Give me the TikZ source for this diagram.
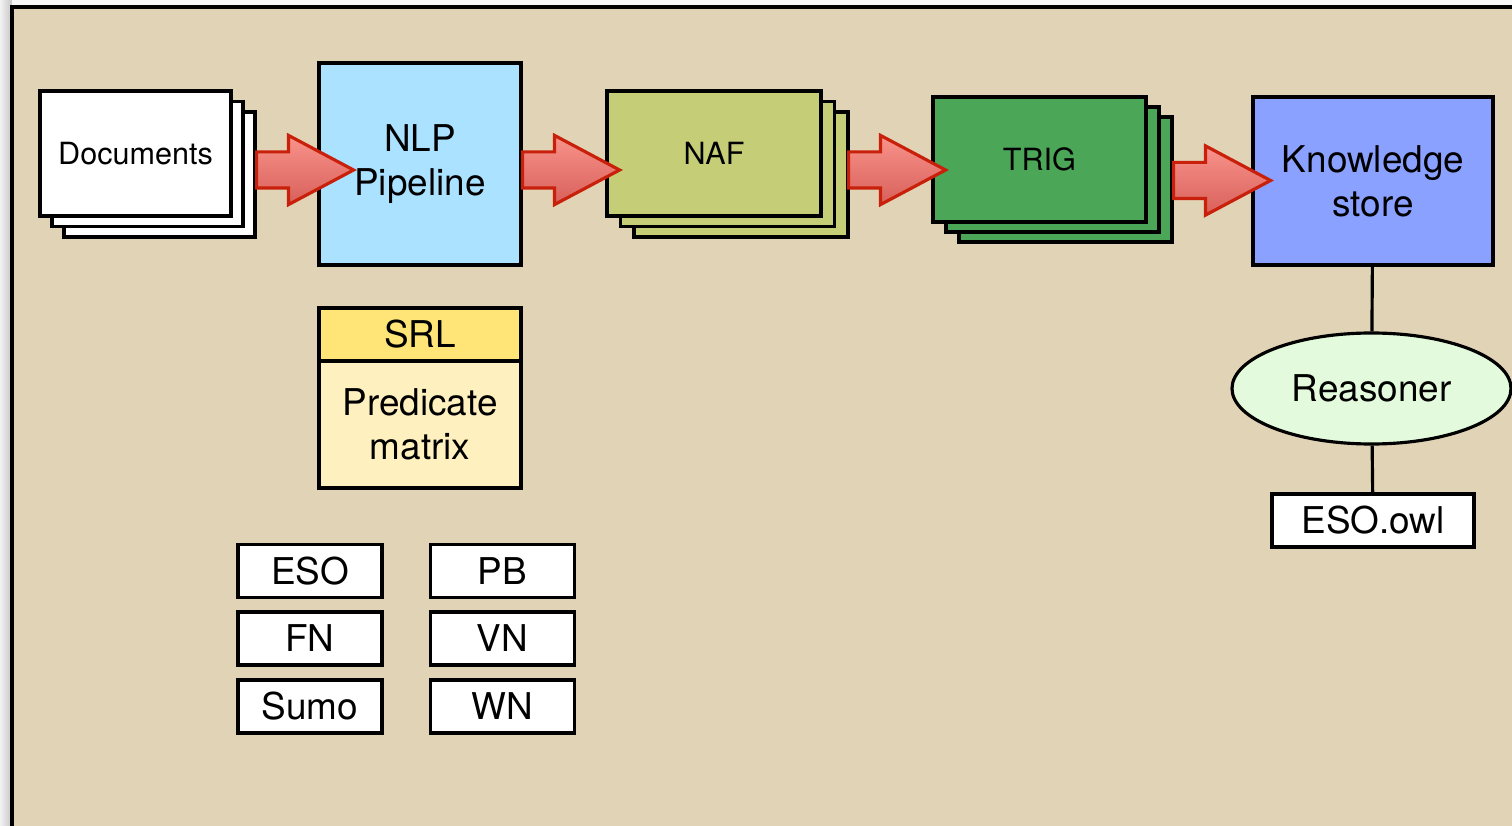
\documentclass[tikz,border=0pt]{standalone}
\usepackage{fontspec}
\setmainfont{TeX Gyre Heros}
\usepackage{xcolor}
\usetikzlibrary{shapes, shapes.arrows, positioning}

\definecolor{paper}{HTML}{E1D3B5}
\definecolor{nlpblue}{HTML}{AAE2FF}
\definecolor{nafgreen}{HTML}{C5CD77}
\definecolor{triggreen}{HTML}{4BA658}
\definecolor{ksblue}{HTML}{8AA1FF}
\definecolor{reasongreen}{HTML}{E3FADC}
\definecolor{srlyellow}{HTML}{FFE477}
\definecolor{pmyellow}{HTML}{FFF0BF}
\definecolor{arrowred}{HTML}{C8200A}
\definecolor{arrowtop}{HTML}{F8938B}
\definecolor{arrowbot}{HTML}{D8605A}

\tikzset{
    box/.style={draw, line width=0.9pt, inner sep=0pt, align=center,
        font=\fontsize{10.5}{12.5}\selectfont},
    sheet/.style={box, minimum width=#1, minimum height=1.25cm,
        font=\fontsize{8.7}{10}\selectfont},
    resource/.style={box, fill=white, minimum width=1.44cm, minimum height=0.53cm},
    fatarrow/.style={single arrow, draw=arrowred, line width=0.9pt,
        top color=arrowtop, bottom color=arrowbot, anchor=tail,
        inner xsep=0pt, inner ysep=0.165cm, minimum height=0.97cm,
        single arrow head extend=0.165cm, single arrow tip angle=56}
}

\begin{document}
\begin{tikzpicture}
    \useasboundingbox (0, 0) rectangle (15.12, -8.26);
    \clip (0, 0) rectangle (15.12, -8.26);
    \fill[gray!6] (0, 0) rectangle (15.12, -8.26);
    \shade[left color=gray!10, right color=gray!45] (0, 0) rectangle (0.12, -8.26);
    \draw[line width=1pt, fill=paper] (0.12, -0.07) rectangle (16, -9);

    % documents
    \node[sheet=1.91cm, fill=white] (doc3) at (1.595, -1.745) {};
    \node[sheet=1.91cm, fill=white] (doc2) at (1.475, -1.64) {};
    \node[sheet=1.91cm, fill=white] (doc) at (1.355, -1.535) {Documents};

    \node[box, fill=nlpblue, minimum width=2.02cm, minimum height=2.02cm] (nlp) at (4.2, -1.64) {NLP\\Pipeline};

    % naf files
    \node[sheet=2.14cm, fill=nafgreen] (naf3) at (7.41, -1.745) {};
    \node[sheet=2.14cm, fill=nafgreen] (naf2) at (7.275, -1.64) {};
    \node[sheet=2.14cm, fill=nafgreen] (naf) at (7.14, -1.535) {NAF};

    % trig files
    \node[sheet=2.13cm, fill=triggreen] (trig3) at (10.655, -1.795) {};
    \node[sheet=2.13cm, fill=triggreen] (trig2) at (10.525, -1.695) {};
    \node[sheet=2.13cm, fill=triggreen] (trig) at (10.395, -1.595) {TRIG};

    \node[box, fill=ksblue, minimum width=2.4cm, minimum height=1.68cm] (ks) at (13.73, -1.81) {Knowledge\\store};
    \node[box, ellipse, fill=reasongreen, minimum width=2.79cm, minimum height=1.11cm] (reasoner) at (13.715, -3.885) {Reasoner};
    \node[box, fill=white, minimum width=2.02cm, minimum height=0.53cm] (esoowl) at (13.73, -5.205) {ESO.owl};

    \node[box, fill=srlyellow, minimum width=2.02cm, minimum height=0.53cm] (srl) at (4.2, -3.345) {SRL};
    \node[box, fill=pmyellow, minimum width=2.02cm, minimum height=1.27cm] (pm) at (4.2, -4.245) {Predicate\\matrix};

    \node[resource] (eso) at (3.1, -5.71) {ESO};
    \node[resource] (fn) at (3.1, -6.385) {FN};
    \node[resource] (sumo) at (3.1, -7.065) {Sumo};
    \node[resource] (pb) at (5.025, -5.71) {PB};
    \node[resource] (vn) at (5.025, -6.385) {VN};
    \node[resource] (wn) at (5.025, -7.065) {WN};

    % flow
    \node[fatarrow] (toNlp) at (2.55, -1.70) {};
    \node[fatarrow] (toNaf) at (5.21, -1.70) {};
    \node[fatarrow] (toTrig) at (8.47, -1.70) {};
    \node[fatarrow] (toKs) at (11.72, -1.805) {};

    \draw[line width=0.9pt] (ks) to (reasoner)
        (reasoner) to (esoowl);
\end{tikzpicture}
\end{document}
